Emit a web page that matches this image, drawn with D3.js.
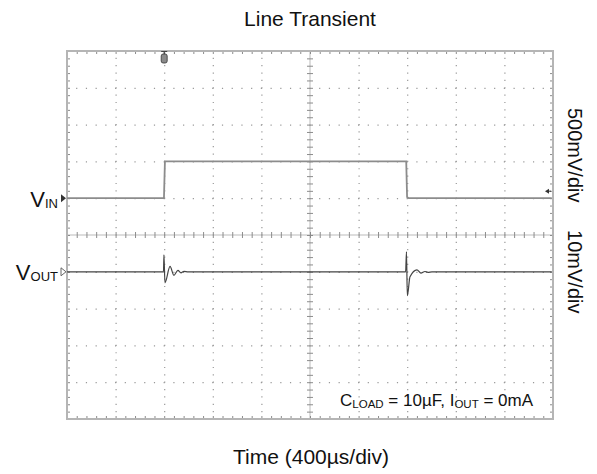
<!DOCTYPE html>
<html>
<head>
<meta charset="utf-8">
<script src="https://cdn.jsdelivr.net/npm/d3@7"></script>
<style>
  body { margin: 0; background: #fff; }
  text { font-family: "Liberation Sans", Arial, sans-serif; fill: #111; }
</style>
</head>
<body>
<div id="chartContainer"></div>
<script>
// time in µs, VIN in mV (relative to low level), VOUT in mV (ac ripple)
const vinTime = [0, 798, 806, 2792, 2799, 2812, 3990];
const vinLevel = [0, 0, 500, 500, 15, 0, 0];

const voutTime = [0, 794, 798, 806, 848, 880, 913, 938, 963, 996,
    2787, 2794, 2801, 2823, 2880, 2913, 2946, 2971, 3004, 3990];
const voutLevel = [0, 0, 4.6, -3.0, 1.45, -0.95, 0.4, -0.27, 0.14, 0,
    0, 5.4, -6.5, -1.36, 0.54, -0.35, 0.08, -0.14, 0, 0];

const timeDivs = [0, 400, 800, 1200, 1600, 2000, 2400, 2800, 3200, 3600, 4000];
const trigTime = 800;
const vinScaleLabel = '500mV/div';
const voutScaleLabel = '10mV/div';

const svgWidth = 597;
const svgHeight = 474;
const margin = { top: 51, right: 44, bottom: 55, left: 67 };
const chartWidth = svgWidth - margin.left - margin.right;   // 486
const chartHeight = svgHeight - margin.top - margin.bottom; // 368

const svg = d3.select('#chartContainer')
    .append('svg')
    .attr('width', svgWidth)
    .attr('height', svgHeight);

const xScale = d3.scaleLinear().domain([0, 4000]).range([0, chartWidth]);
const divScale = d3.scaleLinear().domain([0, 10]).range([0, chartHeight]);
const yVin = d3.scaleLinear().domain([-3000, 2000]).range([chartHeight, 0]);
const yVout = d3.scaleLinear().domain([-40, 60]).range([chartHeight, 0]);

const minorX = chartWidth / 50;
const minorY = chartHeight / 50;
const minorTimes = d3.range(0, 51).map(i => i * 80);
const minorDivs = d3.range(0, 51).map(i => i / 5);

const chart = svg.append('g')
    .attr('transform', `translate(${margin.left}, ${margin.top})`);

// dotted grid
const vGrid = chart.append('g')
    .attr('transform', `translate(0, ${chartHeight})`)
    .call(d3.axisBottom(xScale)
        .tickValues(timeDivs.filter((d, i) => i > 0 && i < 10 && i !== 5))
        .tickSize(-chartHeight)
        .tickFormat(''));
vGrid.select('.domain').remove();
vGrid.selectAll('line')
    .attr('stroke', '#999')
    .attr('stroke-width', 1.2)
    .attr('stroke-dasharray', `1.2 ${minorY - 1.2}`)
    .attr('stroke-dashoffset', 0.6);

const hGrid = chart.append('g')
    .call(d3.axisLeft(divScale)
        .tickValues([1, 2, 3, 4, 6, 7, 8, 9])
        .tickSize(-chartWidth)
        .tickFormat(''));
hGrid.select('.domain').remove();
hGrid.selectAll('line')
    .attr('stroke', '#999')
    .attr('stroke-width', 1.2)
    .attr('stroke-dasharray', `1.2 ${minorX - 1.2}`)
    .attr('stroke-dashoffset', 0.6);

// center cross
chart.append('line')
    .attr('x1', 0).attr('x2', chartWidth)
    .attr('y1', divScale(5)).attr('y2', divScale(5))
    .attr('stroke', '#bbb');
chart.append('line')
    .attr('x1', xScale(2000)).attr('x2', xScale(2000))
    .attr('y1', 0).attr('y2', chartHeight)
    .attr('stroke', '#bbb');

function tickAxis(axis, transform) {
    const g = chart.append('g')
        .attr('transform', transform)
        .call(axis.tickFormat(''));
    g.select('.domain').remove();
    g.selectAll('line').attr('stroke', '#8c8c8c');
}

tickAxis(d3.axisTop(xScale).tickValues(minorTimes).tickSize(3), `translate(0, ${divScale(5)})`);
tickAxis(d3.axisBottom(xScale).tickValues(minorTimes).tickSize(3), `translate(0, ${divScale(5)})`);
tickAxis(d3.axisLeft(divScale).tickValues(minorDivs).tickSize(3), `translate(${xScale(2000)}, 0)`);
tickAxis(d3.axisRight(divScale).tickValues(minorDivs).tickSize(3), `translate(${xScale(2000)}, 0)`);

// edge ticks
tickAxis(d3.axisBottom(xScale).tickValues(minorTimes).tickSize(3), 'translate(0, 0)');
tickAxis(d3.axisTop(xScale).tickValues(minorTimes).tickSize(3), `translate(0, ${chartHeight})`);
tickAxis(d3.axisRight(divScale).tickValues(minorDivs).tickSize(3), 'translate(0, 0)');
tickAxis(d3.axisLeft(divScale).tickValues(minorDivs).tickSize(3), `translate(${chartWidth}, 0)`);

// frame
chart.append('rect')
    .attr('x', 0).attr('y', 0)
    .attr('width', chartWidth).attr('height', chartHeight)
    .attr('fill', 'none')
    .attr('stroke', '#b5b5b5')
    .attr('stroke-width', 2);

// traces
const vinData = vinTime.map((t, i) => ({ t: t, v: vinLevel[i] }));
const voutData = voutTime.map((t, i) => ({ t: t, v: voutLevel[i] }));

chart.append('path')
    .datum(vinData)
    .attr('fill', 'none')
    .attr('stroke', '#8c8c8c')
    .attr('stroke-width', 1.8)
    .attr('d', d3.line().x(d => xScale(d.t)).y(d => yVin(d.v)));

chart.append('path')
    .datum(voutData)
    .attr('fill', 'none')
    .attr('stroke', '#444')
    .attr('stroke-width', 1.2)
    .attr('d', d3.line().curve(d3.curveMonotoneX).x(d => xScale(d.t)).y(d => yVout(d.v)));

// channel markers
const yIn = yVin(0);
const yOut = yVout(0);
chart.append('path')
    .attr('d', `M-6,${yIn - 4}L-1,${yIn}L-6,${yIn + 4}Z`)
    .attr('fill', '#333');
chart.append('path')
    .attr('d', `M-6,${yOut - 4}L-1,${yOut}L-6,${yOut + 4}Z`)
    .attr('fill', '#fff')
    .attr('stroke', '#666');

// trigger marker
const tx = xScale(trigTime);
chart.append('path')
    .attr('d', `M${tx - 3},0.5H${tx + 3}M${tx},0.5V3`)
    .attr('stroke', '#444')
    .attr('stroke-width', 1.2);
chart.append('rect')
    .attr('x', tx - 3).attr('y', 3)
    .attr('width', 6).attr('height', 9)
    .attr('rx', 2)
    .attr('fill', '#8a8a8a')
    .attr('stroke', '#333')
    .attr('stroke-width', 0.8);

// trigger level marker
const ty = yVin(0) - 7;
chart.append('path')
    .attr('d', `M${chartWidth - 8},${ty}L${chartWidth - 4},${ty - 2.5}L${chartWidth - 4},${ty + 2.5}Z`)
    .attr('fill', '#333');
chart.append('line')
    .attr('x1', chartWidth - 5).attr('x2', chartWidth - 2)
    .attr('y1', ty).attr('y2', ty)
    .attr('stroke', '#333');

// labels
svg.append('text')
    .attr('x', 310).attr('y', 26)
    .attr('text-anchor', 'middle')
    .style('font-size', '21px')
    .text('Line Transient');

svg.append('text')
    .attr('x', 311).attr('y', 464)
    .attr('text-anchor', 'middle')
    .style('font-size', '21px')
    .text('Time (400µs/div)');

function subLabel(x, y, main, sub) {
    const t = svg.append('text')
        .attr('x', x).attr('y', y)
        .attr('text-anchor', 'end')
        .style('font-size', '22px');
    t.append('tspan').text(main);
    t.append('tspan').attr('dy', 1).style('font-size', '13px').text(sub);
}
subLabel(58, 207, 'V', 'IN');
subLabel(58, 280, 'V', 'OUT');

svg.append('text')
    .attr('transform', `translate(567.5, ${margin.top + yVin(0) - 43}) rotate(90)`)
    .attr('text-anchor', 'middle')
    .style('font-size', '20px')
    .text(vinScaleLabel);

svg.append('text')
    .attr('transform', `translate(567.5, ${margin.top + yVout(0)}) rotate(90)`)
    .attr('text-anchor', 'middle')
    .style('font-size', '20px')
    .text(voutScaleLabel);

const note = svg.append('text')
    .attr('x', 533).attr('y', 406)
    .attr('text-anchor', 'end')
    .style('font-size', '17px');
note.append('tspan').text('C');
note.append('tspan').attr('dy', 2).style('font-size', '11.5px').text('LOAD');
note.append('tspan').attr('dy', -2).text(' = 10µF, I');
note.append('tspan').attr('dy', 2).style('font-size', '11.5px').text('OUT');
note.append('tspan').attr('dy', -2).text(' = 0mA');
</script>
</body>
</html>
